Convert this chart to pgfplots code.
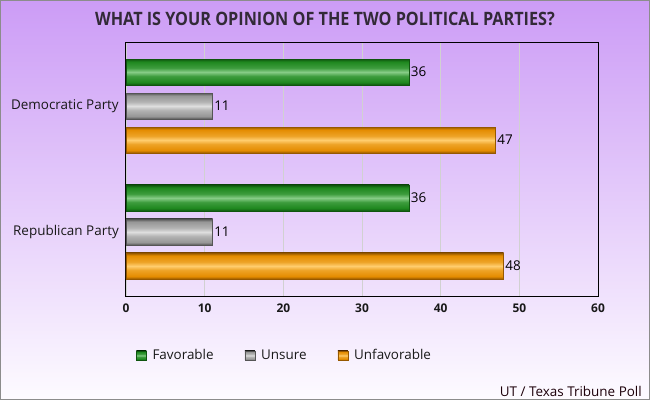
\documentclass[border=0pt]{standalone}
\usepackage{pgfplots}
\pgfplotsset{compat=1.18}
\usepackage{fontspec}
\setmainfont{Open Sans}
\definecolor{bgtop}{RGB}{204,156,246}
\definecolor{bgmid}{RGB}{228,204,252}
\definecolor{bgbot}{RGB}{253,251,255}
\definecolor{gedge}{RGB}{15,85,15}
\definecolor{gbody}{RGB}{30,135,30}
\definecolor{glight}{RGB}{135,205,135}
\definecolor{sedge}{RGB}{85,85,85}
\definecolor{sbody}{RGB}{150,150,150}
\definecolor{slight}{RGB}{222,222,222}
\definecolor{oedge}{RGB}{150,88,0}
\definecolor{obody}{RGB}{228,140,0}
\definecolor{olight}{RGB}{255,205,110}
\definecolor{titlecol}{RGB}{50,42,55}
\pgfdeclareverticalshading{gshade}{100bp}{color(0bp)=(gedge); color(25bp)=(gedge); color(30bp)=(gbody); color(42bp)=(gbody!70!glight); color(50bp)=(glight); color(58bp)=(gbody!70!glight); color(70bp)=(gbody); color(75bp)=(gedge); color(100bp)=(gedge)}
\pgfdeclareverticalshading{sshade}{100bp}{color(0bp)=(sedge); color(25bp)=(sedge); color(30bp)=(sbody); color(42bp)=(sbody!60!slight); color(50bp)=(slight); color(58bp)=(sbody!60!slight); color(70bp)=(sbody); color(75bp)=(sedge); color(100bp)=(sedge)}
\pgfdeclareverticalshading{oshade}{100bp}{color(0bp)=(oedge); color(25bp)=(oedge); color(30bp)=(obody); color(42bp)=(obody!65!olight); color(50bp)=(olight); color(58bp)=(obody!65!olight); color(70bp)=(obody); color(75bp)=(oedge); color(100bp)=(oedge)}
\begin{document}
\begin{tikzpicture}
\shade[top color=bgtop, middle color=bgmid, bottom color=bgbot] (-126bp,-104bp) rectangle (524bp,296bp);
\draw[black!45, line width=1.5bp] (-125.25bp,-103.25bp) rectangle (523.25bp,295.25bp);
\node[font=\bfseries\fontsize{18.5}{20}\selectfont, text=titlecol] at (199bp,277.5bp) {\scalebox{0.88}[1]{WHAT IS YOUR OPINION OF THE TWO POLITICAL PARTIES?}};
\node[font=\fontsize{13.5}{15}\selectfont, text=black!85!purple, anchor=east, inner sep=0pt] at (516bp,-95bp) {UT / Texas Tribune Poll};
\begin{axis}[
  at={(0,0)}, anchor=south west,
  scale only axis, width=472bp, height=254bp,
  xmin=0, xmax=60, ymin=-0.508, ymax=1.508,
  xbar, bar width=26bp,
  ytick={0,1}, yticklabels={Republican Party, Democratic Party},
  xtick={0,10,...,60},
  xmajorgrids, grid style={black!18, line width=0.8bp},
  axis line style={black, line width=1bp},
  major tick length=0pt,
  yticklabel style={font=\fontsize{13.5}{15}\selectfont, text=black!90, inner sep=0pt, xshift=-7bp},
  xticklabel style={font=\bfseries\fontsize{12}{14}\selectfont, text=black!90, inner sep=0pt, yshift=-8bp},
  /pgf/number format/assume math mode=true,
  nodes near coords,
  every node near coord/.append style={font=\fontsize{13.5}{15}\selectfont, text=black, anchor=west, inner sep=1.5bp},
  legend style={at={(0.0212,-0.234)}, anchor=west, draw=none, fill=none, inner sep=0pt, outer sep=0pt,
    nodes={inner sep=0pt, font=\fontsize{13.5}{15}\selectfont, text=black!90},
    legend columns=3,
    /tikz/every odd column/.append style={column sep=6bp},
    /tikz/every even column/.append style={column sep=31bp}},
  legend image code/.code={\path[#1] (0bp,-4.5bp) rectangle (10bp,4.5bp);},
]
\addplot[bar shift=34bp, draw=gedge, line width=0.5bp, shade, shading=gshade] coordinates {(36,1)};
\addlegendentry{Favorable}
\addplot[bar shift=0bp, draw=sedge, line width=0.5bp, shade, shading=sshade] coordinates {(11,1)};
\addlegendentry{Unsure}
\addplot[bar shift=-34bp, draw=oedge, line width=0.5bp, shade, shading=oshade] coordinates {(47,1)};
\addlegendentry{Unfavorable}
\addplot[forget plot, bar shift=34bp, draw=gedge, line width=0.5bp, shade, shading=gshade] coordinates {(36,0)};
\addplot[forget plot, bar shift=0bp, draw=sedge, line width=0.5bp, shade, shading=sshade] coordinates {(11,0)};
\addplot[forget plot, bar shift=-34bp, draw=oedge, line width=0.5bp, shade, shading=oshade] coordinates {(48,0)};
\end{axis}
\end{tikzpicture}
\end{document}
